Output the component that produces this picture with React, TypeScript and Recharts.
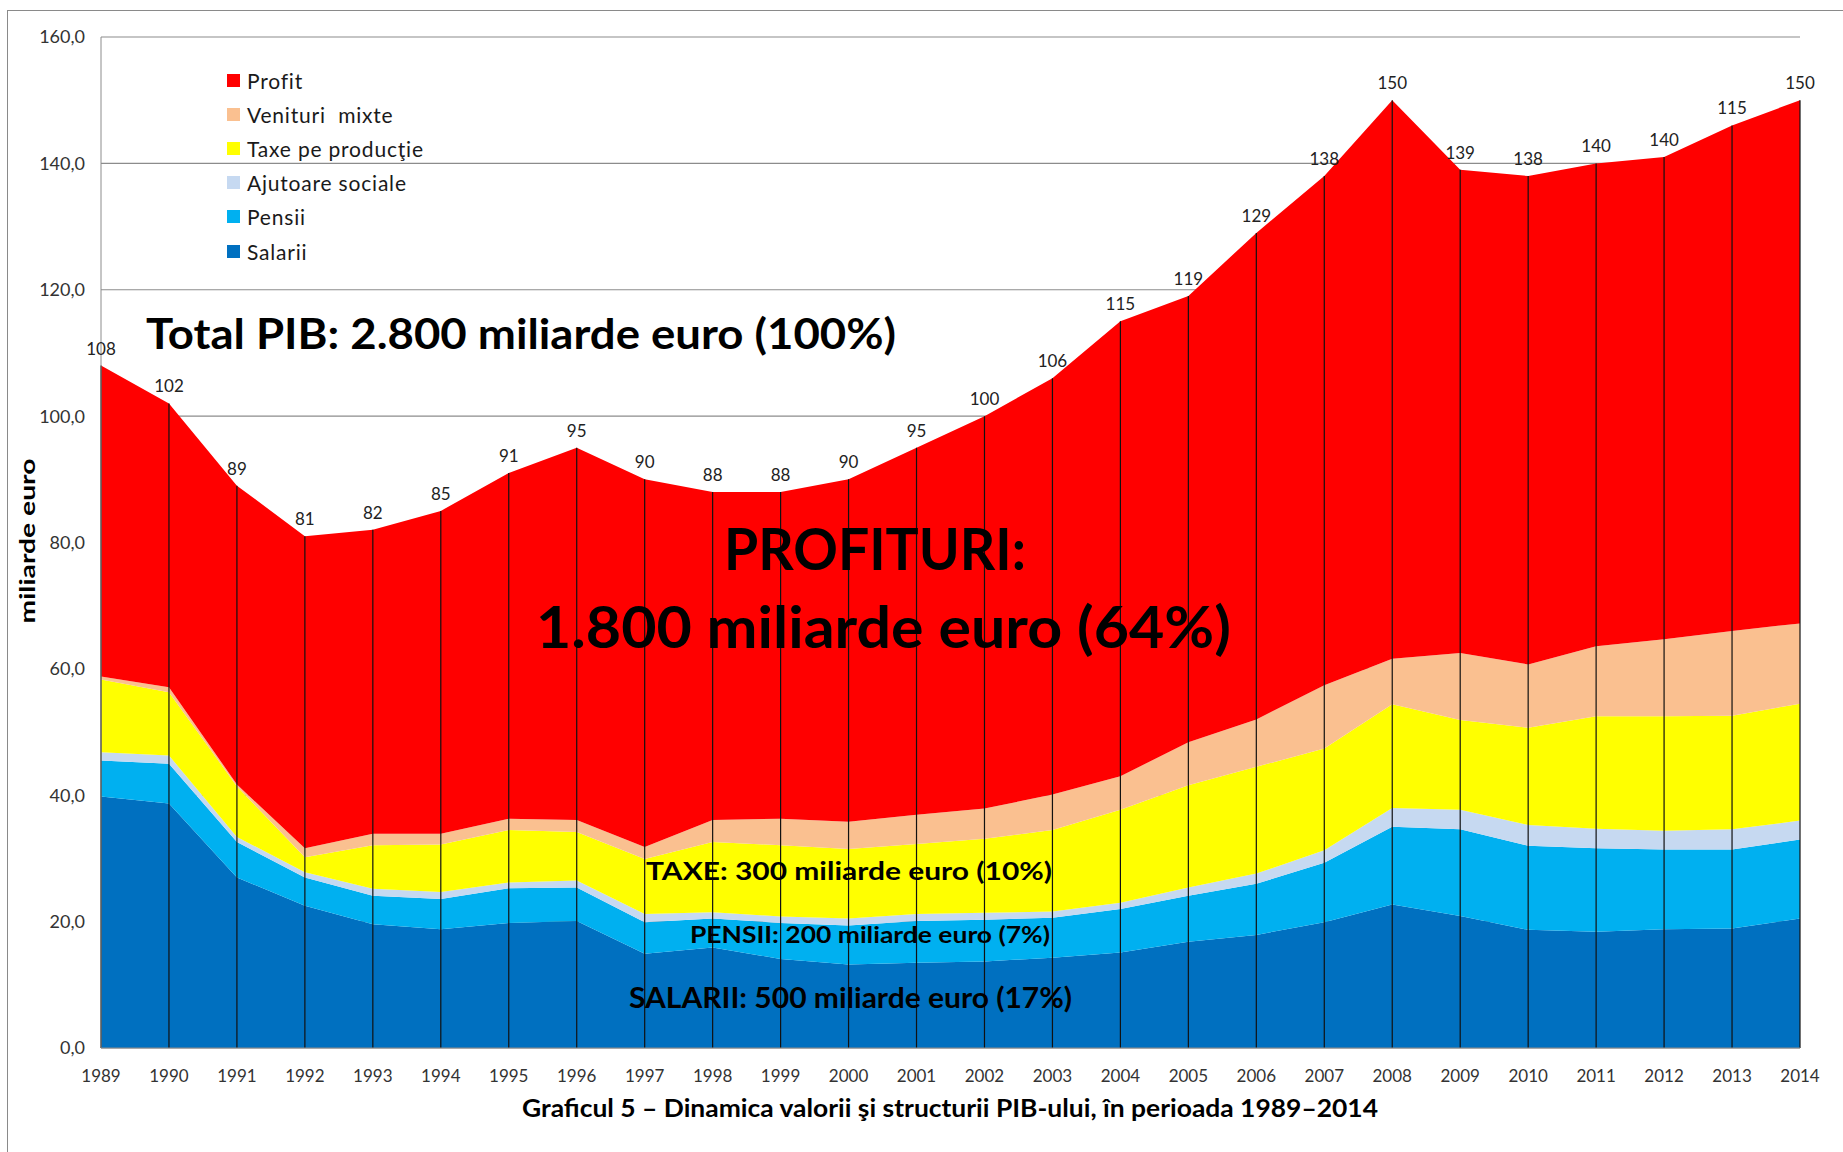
import React from 'react';
import {
  AreaChart,
  Area,
  XAxis,
  YAxis,
  CartesianGrid,
  Legend,
  LabelList,
  ReferenceLine,
} from 'recharts';

const years = [
  1989, 1990, 1991, 1992, 1993, 1994, 1995, 1996, 1997, 1998, 1999, 2000, 2001,
  2002, 2003, 2004, 2005, 2006, 2007, 2008, 2009, 2010, 2011, 2012, 2013, 2014,
];

// miliarde euro
const salarii = [
  39.8, 38.7, 27.0, 22.5, 19.6, 18.8, 19.8, 20.1, 14.9, 15.9, 14.1, 13.2, 13.5,
  13.7, 14.3, 15.1, 16.8, 17.9, 19.9, 22.7, 20.9, 18.7, 18.4, 18.8, 18.9, 20.5,
];
const pensii = [
  5.7, 6.3, 5.6, 4.5, 4.5, 4.8, 5.5, 5.3, 5.0, 4.6, 5.7, 6.2, 6.6,
  6.6, 6.3, 6.9, 7.3, 8.1, 9.4, 12.3, 13.7, 13.3, 13.2, 12.6, 12.5, 12.5,
];
const ajutoare = [
  1.3, 1.3, 0.8, 0.8, 1.1, 1.1, 0.9, 1.1, 1.3, 1.0, 1.0, 1.1, 1.1,
  1.1, 1.0, 1.0, 1.3, 1.6, 2.0, 3.0, 3.1, 3.3, 3.1, 3.0, 3.2, 3.0,
];
const taxe = [
  11.5, 10.0, 8.0, 2.4, 6.9, 7.5, 8.3, 7.7, 8.7, 11.1, 11.3, 11.0, 11.1,
  11.7, 12.9, 14.7, 16.2, 16.9, 16.1, 16.4, 14.2, 15.4, 17.8, 18.1, 18.0, 18.5,
];
const venituri = [
  0.5, 0.8, 0.3, 1.4, 1.8, 1.7, 1.8, 1.9, 1.9, 3.5, 4.2, 4.3, 4.6,
  4.8, 5.6, 5.3, 6.8, 7.5, 10.0, 7.2, 10.6, 10.0, 11.1, 12.2, 13.4, 12.7,
];
const profit = [
  49.2, 44.9, 47.3, 49.4, 48.1, 51.1, 54.7, 58.9, 58.2, 51.9, 51.7, 54.2, 58.1,
  62.1, 65.9, 72.0, 70.6, 77.0, 80.6, 88.4, 76.5, 77.3, 76.4, 76.3, 80.0, 82.8,
];
// labels as printed on the original (2013 really says 115)
const totalLabels = [
  '108', '102', '89', '81', '82', '85', '91', '95', '90', '88', '88', '90', '95',
  '100', '106', '115', '119', '129', '138', '150', '139', '138', '140', '140', '115', '150',
];
const yTicks = [0, 20, 40, 60, 80, 100, 120, 140, 160];

const series = [
  { key: 'salarii', name: 'Salarii', color: '#0070c0' },
  { key: 'pensii', name: 'Pensii', color: '#00b0f0' },
  { key: 'ajutoare', name: 'Ajutoare sociale', color: '#c6d9f1' },
  { key: 'taxe', name: 'Taxe pe producţie', color: '#ffff00' },
  { key: 'venituri', name: 'Venituri  mixte', color: '#fac090' },
  { key: 'profit', name: 'Profit', color: '#ff0000' },
];

const data = years.map((year, i) => ({
  year,
  salarii: salarii[i],
  pensii: pensii[i],
  ajutoare: ajutoare[i],
  taxe: taxe[i],
  venituri: venituri[i],
  profit: profit[i],
  label: totalLabels[i],
  total: salarii[i] + pensii[i] + ajutoare[i] + taxe[i] + venituri[i] + profit[i],
}));

const FONT = 'Lato, "Open Sans", sans-serif';

function LegendBox() {
  // Profit on top, Salarii at the bottom, like the stack
  const items = [...series].reverse();
  return (
    <div style={{ fontFamily: FONT, fontSize: 21, letterSpacing: 0.8, color: '#1a1a1a' }}>
      {items.map((s) => (
        <div key={s.key} style={{ display: 'flex', alignItems: 'center', height: 34.2 }}>
          <span
            style={{ width: 13, height: 13, background: s.color, marginRight: 7, display: 'inline-block' }}
          />
          <span style={{ whiteSpace: 'pre' }}>{s.name}</span>
        </div>
      ))}
    </div>
  );
}

function TopLabel(props: any) {
  const x = props.x ?? props.viewBox?.x;
  const y = props.y ?? props.viewBox?.y;
  if (x == null || y == null) return null;
  return (
    <text x={x} y={y - 11} textAnchor="middle" fontSize={17} fontFamily={FONT} fill="#222">
      {props.value}
    </text>
  );
}

export default function App() {
  return (
    <div style={{ position: 'absolute', left: 0, top: 0, width: 1843, height: 1152, background: '#fff' }}>
      <div
        style={{
          position: 'absolute',
          left: 7,
          top: 10,
          right: -2,
          bottom: -2,
          borderLeft: '1px solid #8a8a8a',
          borderTop: '1px solid #8a8a8a',
        }}
      />
      <div style={{ position: 'absolute', left: 0, top: 0 }}>
        <AreaChart width={1843} height={1152} data={data} margin={{ top: 37, right: 43, left: 0, bottom: 0 }}>
          <CartesianGrid vertical={false} stroke="#8c8c8c" strokeWidth={1.2} />
          <XAxis
            dataKey="year"
            height={104}
            tickLine={false}
            tickSize={0}
            tickMargin={22}
            axisLine={{ stroke: '#8c8c8c' }}
            interval={0}
            tick={{ fontSize: 17, fontFamily: FONT, fill: '#333' }}
          />
          <YAxis
            width={101}
            domain={[0, 160]}
            ticks={yTicks}
            tickLine={false}
            tickSize={0}
            tickMargin={16}
            axisLine={{ stroke: '#8c8c8c' }}
            tickFormatter={(v: number) => v.toFixed(1).replace('.', ',')}
            tick={{ fontSize: 18, fontFamily: FONT, fill: '#333' }}
          />
          <Legend
            layout="vertical"
            align="center"
            verticalAlign="middle"
            wrapperStyle={{ left: 227, top: 63, width: 280 }}
            content={() => <LegendBox />}
          />
          {series.map((s) => (
            <Area
              key={s.key}
              type="linear"
              dataKey={s.key}
              name={s.name}
              stackId="pib"
              stroke="none"
              fill={s.color}
              fillOpacity={1}
              isAnimationActive={false}
            >
              {s.key === 'profit' && <LabelList dataKey="label" content={<TopLabel />} />}
            </Area>
          ))}
          {data.map((d) => (
            <ReferenceLine
              key={d.year}
              segment={[
                { x: d.year, y: 0 },
                { x: d.year, y: d.total },
              ]}
              stroke="#111"
              strokeWidth={1.2}
            />
          ))}
        </AreaChart>
      </div>
      <svg
        width={1843}
        height={1152}
        style={{ position: 'absolute', left: 0, top: 0, pointerEvents: 'none', whiteSpace: 'pre' }}
        fontFamily={FONT}
        fontWeight={700}
      >
        <text x={146} y={349} fontSize={42} textLength={750} lengthAdjust="spacingAndGlyphs" fill="#000">
          Total PIB: 2.800 miliarde euro (100%)
        </text>
        <text x={724} y={570} fontSize={57} textLength={302} lengthAdjust="spacingAndGlyphs" fill="#000">
          PROFITURI:
        </text>
        <text x={536} y={648} fontSize={57} textLength={695} lengthAdjust="spacingAndGlyphs" fill="#000">
          1.800 miliarde euro (64%)
        </text>
        <text x={646} y={880} fontSize={24} textLength={406} lengthAdjust="spacingAndGlyphs" fill="#000">
          {'TAXE: 300 miliarde  euro (10%)'}
        </text>
        <text x={690} y={943} fontSize={23} textLength={360} lengthAdjust="spacingAndGlyphs" fill="#000">
          PENSII: 200 miliarde euro (7%)
        </text>
        <text x={629} y={1008} fontSize={28} textLength={443} lengthAdjust="spacingAndGlyphs" fill="#000">
          {'SALARII: 500 miliarde  euro  (17%)'}
        </text>
        <text x={522} y={1117} fontSize={24} textLength={856} lengthAdjust="spacingAndGlyphs" fill="#000">
          Graficul 5 – Dinamica valorii şi structurii PIB-ului, în perioada 1989–2014
        </text>
        <text
          x={0}
          y={0}
          transform="translate(35 541) rotate(-90)"
          textAnchor="middle"
          fontSize={20}
          textLength={165}
          lengthAdjust="spacingAndGlyphs"
          fill="#000"
        >
          miliarde euro
        </text>
      </svg>
    </div>
  );
}
